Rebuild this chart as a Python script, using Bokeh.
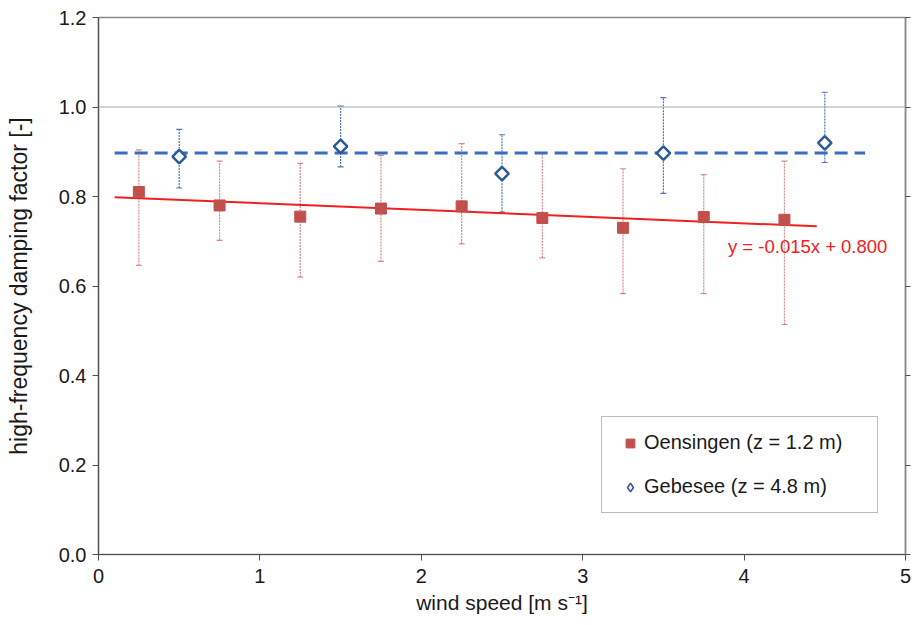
import math
from bokeh.plotting import figure
from bokeh.models import (Range1d, LinearAxis, Whisker, TeeHead, ColumnDataSource,
                          Legend, LegendItem, Span, FixedTicker)
from bokeh.core.properties import value
from bokeh.embed import file_html
from bokeh.resources import INLINE

# ---- data ----
oen_x = [0.25, 0.75, 1.25, 1.75, 2.25, 2.75, 3.25, 3.75, 4.25]
oen_y = [0.810, 0.780, 0.755, 0.773, 0.778, 0.752, 0.730, 0.754, 0.748]
oen_lo = [0.646, 0.702, 0.620, 0.655, 0.694, 0.663, 0.583, 0.583, 0.514]
oen_hi = [0.904, 0.879, 0.874, 0.892, 0.918, 0.897, 0.862, 0.849, 0.879]

geb_x = [0.5, 1.5, 2.5, 3.5, 4.5]
geb_y = [0.889, 0.912, 0.851, 0.897, 0.920]
geb_lo = [0.819, 0.866, 0.765, 0.807, 0.876]
geb_hi = [0.950, 1.002, 0.938, 1.021, 1.033]

oen_fit_slope = -0.015
oen_fit_intercept = 0.800
oen_fit_x = [0.1, 4.45]
geb_fit_x = [0.1, 4.75]
geb_fit_y = [0.897, 0.897]

x_ticks = [0, 1, 2, 3, 4, 5]
y_ticks = [0.0, 0.2, 0.4, 0.6, 0.8, 1.0, 1.2]
series_names = ["Oensingen (z = 1.2 m)", "Gebesee (z = 4.8 m)"]
equation_text = "y = -0.015x + 0.800"
x_label = "wind speed [m s\u207b\u00b9]"
y_label = "high-frequency damping factor [-]"

FONT = "Liberation Sans"
RED = "#c0504d"
RED_ERR = "#d98a8a"
RED_FIT = "#f02020"
BLUE = "#2c5a96"
BLUE_ERR = "#5578aa"
BLUE_FIT = "#3a6cc0"

p = figure(frame_width=807, frame_height=537, width=912, height=625,
           x_range=Range1d(0, 5), y_range=Range1d(0, 1.2),
           output_backend="svg", toolbar_location=None,
           min_border_left=98, min_border_right=7, min_border_top=17, min_border_bottom=71)
p.background_fill_color = "white"
p.border_fill_color = "white"
p.outline_line_color = "#8a8a8a"
p.outline_line_width = 1.5
p.xgrid.visible = False
p.ygrid.visible = False

# reference line at 1.0
p.add_layout(Span(location=1.0, dimension="width", line_color="#a8a8a8", line_width=1))

# error bars
src_o = ColumnDataSource(dict(x=oen_x, y=oen_y, lo=oen_lo, hi=oen_hi))
src_g = ColumnDataSource(dict(x=geb_x, y=geb_y, lo=geb_lo, hi=geb_hi))
for src, col in ((src_o, RED_ERR), (src_g, BLUE_ERR)):
    w = Whisker(source=src, base="x", lower="lo", upper="hi", level="underlay",
                line_color=col, line_width=1.2, line_dash="2 1",
                upper_head=TeeHead(size=6, line_color=col, line_width=1.2),
                lower_head=TeeHead(size=6, line_color=col, line_width=1.2))
    p.add_layout(w)

# fit lines
oen_fit_y = [oen_fit_slope * xv + oen_fit_intercept for xv in oen_fit_x]
p.line(oen_fit_x, oen_fit_y, line_color=RED_FIT, line_width=2)
p.line(geb_fit_x, geb_fit_y, line_color=BLUE_FIT, line_width=3, line_dash="13 7")

# markers
r_o = p.scatter("x", "y", source=src_o, marker="square", size=11,
                fill_color=RED, line_color=RED)
# diamond renderer used for the legend symbol (tiny; hidden under the open diamonds)
r_g_leg = p.scatter("x", "y", source=src_g, marker="diamond", size=1,
                    fill_color="white", line_color=BLUE, line_width=1.6)
p.scatter("x", "y", source=src_g, marker="square", size=9.5, angle=math.pi / 4,
          fill_color="white", line_color=BLUE, line_width=2.5)

# equation
p.text(x=[3.9], y=[0.688], text=[equation_text], text_font=value(FONT),
       text_font_size="18.5px", text_color=RED_FIT, text_baseline="middle", text_align="left")

# axes styling
for ax in (p.xaxis[0], p.yaxis[0]):
    ax.axis_line_color = "#505050"
    ax.axis_line_width = 1.2
    ax.major_tick_line_color = "#505050"
    ax.major_tick_out = 6
    ax.major_tick_in = 0
    ax.minor_tick_line_color = None
    ax.major_label_text_font = FONT
    ax.major_label_text_font_size = "20px"
    ax.major_label_text_color = "#1a1a1a"
    ax.axis_label_text_font = FONT
    ax.axis_label_text_font_style = "normal"
    ax.axis_label_text_color = "#1a1a1a"

p.xaxis[0].axis_label_text_font_size = "21px"
p.yaxis[0].axis_label_text_font_size = "23px"
p.xaxis[0].ticker = FixedTicker(ticks=x_ticks)
p.yaxis[0].ticker = FixedTicker(ticks=y_ticks)
p.xaxis[0].major_label_overrides = {t: str(t) for t in x_ticks}
p.yaxis[0].major_label_overrides = {t: f"{t:.1f}" for t in y_ticks}
p.xaxis[0].axis_label = x_label
p.yaxis[0].axis_label = y_label
p.xaxis[0].major_label_standoff = 8
p.xaxis[0].axis_label_standoff = 5
p.yaxis[0].major_label_standoff = 6
p.yaxis[0].axis_label_standoff = 24

# right axis: ticks only
rax = LinearAxis(ticker=FixedTicker(ticks=y_ticks),
                 major_label_overrides={t: "" for t in y_ticks},
                 major_label_standoff=0, axis_line_color="#8a8a8a", axis_line_width=1.5,
                 major_tick_line_color="#505050", major_tick_out=5, major_tick_in=0,
                 minor_tick_line_color=None)
p.add_layout(rax, "right")

legend = Legend(items=[LegendItem(label=series_names[0], renderers=[r_o]),
                       LegendItem(label=series_names[1], renderers=[r_g_leg])],
                location=(503, 41), margin=0, padding=14, spacing=21,
                glyph_width=28, glyph_height=22, label_height=22, label_width=219,
                label_standoff=0,
                label_text_font=FONT, label_text_font_size="20px", label_text_color="#1a1a1a",
                border_line_color="#7a7a7a", border_line_width=1.5,
                background_fill_color="white", background_fill_alpha=1)
p.add_layout(legend, "center")

open("out.html", "w").write(file_html(p, INLINE))
